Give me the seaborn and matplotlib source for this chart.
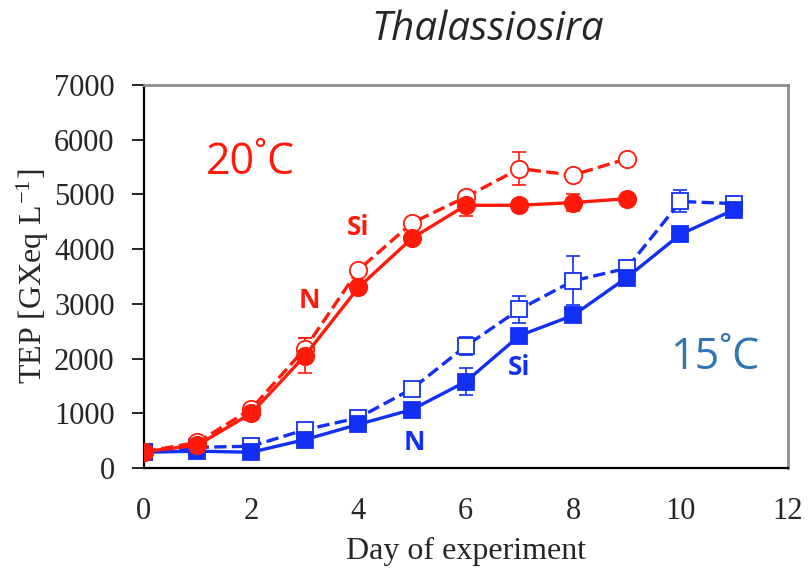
import matplotlib
matplotlib.use("Agg")
import matplotlib.pyplot as plt
import seaborn as sns
import pandas as pd
import numpy as np

days_20 = [0, 1, 2, 3, 4, 5, 6, 7, 8, 9]
days_15 = [0, 1, 2, 3, 4, 5, 6, 7, 8, 9, 10, 11]

n20 = [300, 420, 1000, 2050, 3300, 4200, 4800, 4800, 4850, 4920]
n20_err = [0, 0, 120, 320, 60, 60, 200, 60, 150, 60]
si20 = [300, 470, 1080, 2180, 3620, 4480, 4950, 5470, 5350, 5650]
si20_err = [0, 0, 60, 200, 60, 60, 60, 300, 60, 60]
n15 = [290, 310, 290, 520, 800, 1070, 1580, 2420, 2790, 3480, 4270, 4720]
n15_err = [0, 0, 0, 0, 0, 0, 250, 0, 0, 0, 0, 0]
si15 = [290, 380, 400, 700, 920, 1450, 2230, 2900, 3420, 3650, 4870, 4830]
si15_err = [0, 0, 0, 0, 0, 0, 170, 250, 450, 0, 200, 100]

RED = "#ff1a0a"
BLUE = "#1230f5"
BLUE_TXT = "#2e75b6"

sns.set_style("white")
plt.rcParams["mathtext.fontset"] = "stix"

fig = plt.figure(figsize=(8.08, 5.73), dpi=100)
ax = fig.add_axes([0.178, 0.183, 0.797, 0.669])

series = [
    (days_15, si15, si15_err, BLUE, "s", "white", "--", 11),
    (days_15, n15, n15_err, BLUE, "s", BLUE, "-", 11),
    (days_20, si20, si20_err, RED, "o", "white", "--", 12.5),
    (days_20, n20, n20_err, RED, "o", RED, "-", 12.5),
]
for x, y, e, c, m, fc, ls, ms in series:
    df = pd.DataFrame({"day": x, "tep": y})
    ax.errorbar(x, y, yerr=e, fmt="none", ecolor=c, elinewidth=1.2,
                capsize=5, capthick=1.2, zorder=2)
    sns.lineplot(data=df, x="day", y="tep", ax=ax, color=c, marker=m,
                 markersize=ms, markerfacecolor=fc, markeredgecolor=c,
                 markeredgewidth=1.3, linewidth=2.4, linestyle=ls, zorder=3)

ax.set_xlim(0, 12)
ax.set_ylim(0, 7000)
ax.set_xticks(range(0, 13, 2))
ax.set_yticks(range(0, 7001, 1000))
serif = "Liberation Serif"
for lab in ax.get_xticklabels() + ax.get_yticklabels():
    lab.set_fontfamily(serif)
    lab.set_fontsize(22)
ax.tick_params(axis="y", direction="out", length=9, width=1.2, color="black", pad=12, left=True)
ax.tick_params(axis="x", length=0, pad=21)
ax.set_xlabel("Day of experiment", fontfamily=serif, fontsize=23, labelpad=8)
ax.set_ylabel(r"TEP [GXeq L$^{\mathregular{-1}}$]", fontfamily=serif, fontsize=23, labelpad=2)

for s in ["left", "bottom"]:
    ax.spines[s].set_color("black")
    ax.spines[s].set_linewidth(1.6)
for s in ["top", "right"]:
    ax.spines[s].set_color("#8c8c8c")
    ax.spines[s].set_linewidth(2.0)

fam = ["Open Sans", "DejaVu Sans"]
fig.text(0.604, 0.948, "Thalassiosira", fontsize=29, style="italic", family=fam,
         ha="center", va="center")
ax.text(1.15, 5580, "20˚C", fontsize=31, color=RED, family=fam, ha="left", va="center")
ax.text(9.8, 2010, "15˚C", fontsize=31, color=BLUE_TXT, family=fam, ha="left", va="center")
ax.text(3.99, 4390, "Si", fontsize=19, color=RED, family=fam, weight="bold", ha="center", va="center")
ax.text(3.09, 3070, "N", fontsize=19, color=RED, family=fam, weight="bold", ha="center", va="center")
ax.text(7.0, 1830, "Si", fontsize=19, color=BLUE, family=fam, weight="bold", ha="center", va="center")
ax.text(5.05, 460, "N", fontsize=19, color=BLUE, family=fam, weight="bold", ha="center", va="center")

fig.savefig("out.png", dpi=100)
